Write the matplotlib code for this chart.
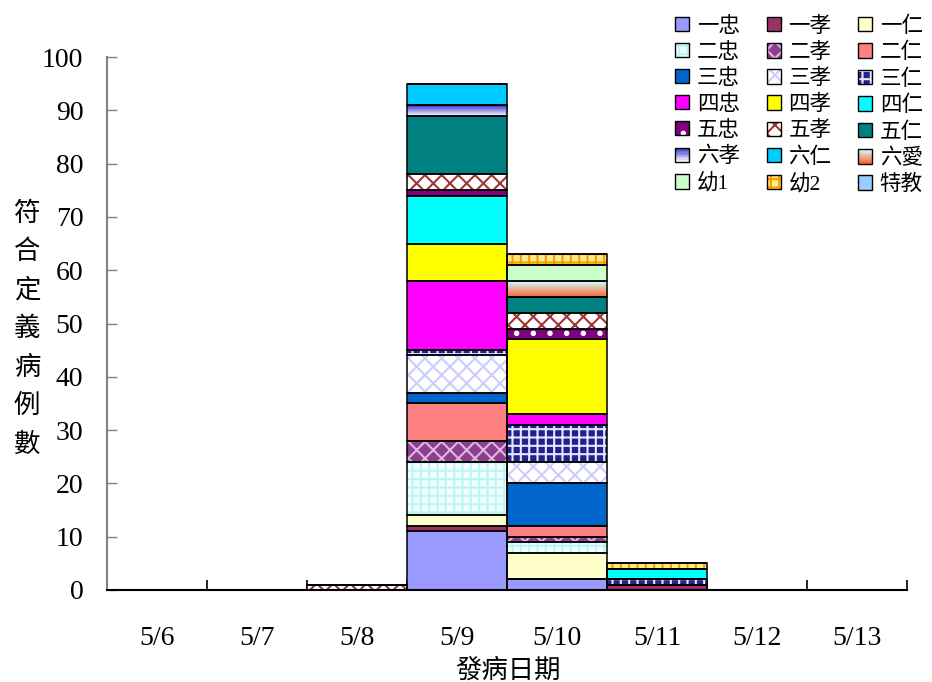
import matplotlib
matplotlib.use("Agg")
import matplotlib.pyplot as plt
import numpy as np
from matplotlib.colors import LinearSegmentedColormap
from matplotlib.patches import Rectangle
from matplotlib.legend_handler import HandlerBase, HandlerTuple

plt.rcParams['hatch.linewidth'] = 1.5

dates = ['5/6', '5/7', '5/8', '5/9', '5/10', '5/11', '5/12', '5/13']
classes = ['一忠', '一孝', '一仁', '二忠', '二孝', '二仁', '三忠', '三孝', '三仁',
           '四忠', '四孝', '四仁', '五忠', '五孝', '五仁', '六孝', '六仁', '六愛',
           '幼1', '幼2', '特教']

cases = {
    '一忠': [0, 0, 0, 11, 2, 0, 0, 0],
    '一孝': [0, 0, 0, 1, 0, 1, 0, 0],
    '一仁': [0, 0, 0, 2, 5, 0, 0, 0],
    '二忠': [0, 0, 0, 10, 2, 0, 0, 0],
    '二孝': [0, 0, 0, 4, 1, 0, 0, 0],
    '二仁': [0, 0, 0, 7, 2, 0, 0, 0],
    '三忠': [0, 0, 0, 2, 8, 0, 0, 0],
    '三孝': [0, 0, 0, 7, 4, 0, 0, 0],
    '三仁': [0, 0, 0, 1, 7, 1, 0, 0],
    '四忠': [0, 0, 0, 13, 2, 0, 0, 0],
    '四孝': [0, 0, 0, 7, 14, 0, 0, 0],
    '四仁': [0, 0, 0, 9, 0, 2, 0, 0],
    '五忠': [0, 0, 0, 1, 2, 0, 0, 0],
    '五孝': [0, 0, 1, 3, 3, 0, 0, 0],
    '五仁': [0, 0, 0, 11, 3, 0, 0, 0],
    '六孝': [0, 0, 0, 2, 0, 0, 0, 0],
    '六仁': [0, 0, 0, 4, 0, 0, 0, 0],
    '六愛': [0, 0, 0, 0, 3, 0, 0, 0],
    '幼1': [0, 0, 0, 0, 3, 0, 0, 0],
    '幼2': [0, 0, 0, 0, 2, 1, 0, 0],
    '特教': [0, 0, 0, 0, 0, 0, 0, 0],
}

# fill style per class: (face, hatch, hatch colour) or a gradient (bottom, top)
styles = {
    '一忠': ('#9999FF', None, None),
    '一孝': ('#993366', None, None),
    '一仁': ('#FFFFCC', None, None),
    '二忠': ('#F0FFFF', '++', '#BDF5F5'),
    '二孝': ('#8E3E8E', 'xx', '#E2B4E2'),
    '二仁': ('#FF8080', None, None),
    '三忠': ('#0066CC', None, None),
    '三孝': ('white', 'xx', '#CCCCFF'),
    '三仁': ('#22228C', '++', '#E6E6FF'),
    '四忠': ('#FF00FF', None, None),
    '四孝': ('#FFFF00', None, None),
    '四仁': ('#00FFFF', None, None),
    '五忠': ('#800080', '.', 'white'),
    '五孝': ('white', 'xx', '#A03535'),
    '五仁': ('#008080', None, None),
    '六仁': ('#00CCFF', None, None),
    '幼1': ('#CCFFCC', None, None),
    '幼2': ('#FFEE88', '++', '#FF9900'),
    '特教': ('#99CCFF', None, None),
}
gradients = {
    '六孝': ('white', '#3333CC'),
    '六愛': ('#FF6633', '#CCFFFF'),
}


class GradientPatch(Rectangle):
    pass


class HandlerGradient(HandlerBase):
    def create_artists(self, legend, orig_handle, xdescent, ydescent,
                       width, height, fontsize, trans):
        n = 12
        arts = []
        for k in range(n):
            r = Rectangle((-xdescent, -ydescent + height * k / n), width, height / n,
                          facecolor=orig_handle.cmap(k / (n - 1)), edgecolor='none',
                          transform=trans)
            arts.append(r)
        return arts


fig = plt.figure(figsize=(9.32, 6.82), dpi=100)
ax = fig.add_axes([0.1148, 0.1349, 0.8584, 0.7815])

x = np.arange(len(dates))
bottom = np.zeros(len(dates))
handles = []
for name in classes:
    vals = np.array(cases[name], dtype=float)
    if name in gradients:
        cmap = LinearSegmentedColormap.from_list(name, gradients[name])
        for xi, b, v in zip(x, bottom, vals):
            if v > 0:
                ax.imshow(np.linspace(0, 1, 64).reshape(-1, 1), cmap=cmap,
                          extent=[xi - 0.5, xi + 0.5, b, b + v], origin='lower',
                          aspect='auto', zorder=2)
        fill = GradientPatch((0, 0), 1, 1)
        fill.cmap = cmap
    else:
        fc, hatch, hc = styles[name]
        ax.bar(x, vals, 1.0, bottom=bottom, color=fc, edgecolor=hc if hc else fc,
               linewidth=0, hatch=hatch, zorder=2)
        fill = Rectangle((0, 0), 1, 1, facecolor=fc, edgecolor=hc if hc else fc,
                         linewidth=0, hatch=hatch)
    ax.bar(x, vals, 1.0, bottom=bottom, fill=False, edgecolor='black',
           linewidth=1.1, zorder=3)
    edge = Rectangle((0, 0), 1, 1, fill=False, edgecolor='black', linewidth=1.0)
    handles.append((fill, edge))
    bottom += vals

ax.set_xlim(-0.5, len(dates) - 0.5)
ax.set_ylim(0, 100)
ax.set_yticks(np.arange(0, 101, 10))
ax.set_xticks(x)
ax.set_xticklabels(dates)
ax.set_xticks(np.arange(0.5, len(dates), 1.0), minor=True)

for s in ['top', 'right']:
    ax.spines[s].set_visible(False)
ax.spines['left'].set_color('#808080')
ax.spines['left'].set_linewidth(1.5)
ax.spines['bottom'].set_linewidth(1.5)

serif = 'Liberation Serif'
ax.tick_params(axis='y', direction='in', length=7, width=1.0, color='#808080',
               pad=17, labelsize=20)
ax.tick_params(axis='x', which='major', length=0, pad=26, labelsize=20)
ax.tick_params(axis='x', which='minor', direction='in', length=7, width=1.2)
for lab in ax.get_xticklabels() + ax.get_yticklabels():
    lab.set_fontfamily(serif)

cjk = ['Noto Sans CJK TC', 'DejaVu Sans']
fig.text(0.029, 0.518, '\n'.join('符合定義病例數'), family=cjk, fontsize=19,
         ha='center', va='center', linespacing=1.55)
fig.text(0.545, 0.018, '發病日期', family=cjk, fontsize=19, ha='center', va='center')

# legend laid out row by row, three per row
order = [r * 3 + c for c in range(3) for r in range(7)]
leg = fig.legend([handles[i] for i in order], [classes[i] for i in order],
                 ncol=3, loc='upper right', bbox_to_anchor=(1.004, 0.995),
                 frameon=False, prop={'family': [serif, 'Noto Sans CJK TC'], 'size': 15.5},
                 handlelength=0.65, handleheight=0.65, handletextpad=0.35,
                 columnspacing=1.25, labelspacing=0.28, borderaxespad=0.2,
                 handler_map={tuple: HandlerTuple(ndivide=1),
                              GradientPatch: HandlerGradient()})

fig.savefig('out.png', dpi=100, facecolor='white')
